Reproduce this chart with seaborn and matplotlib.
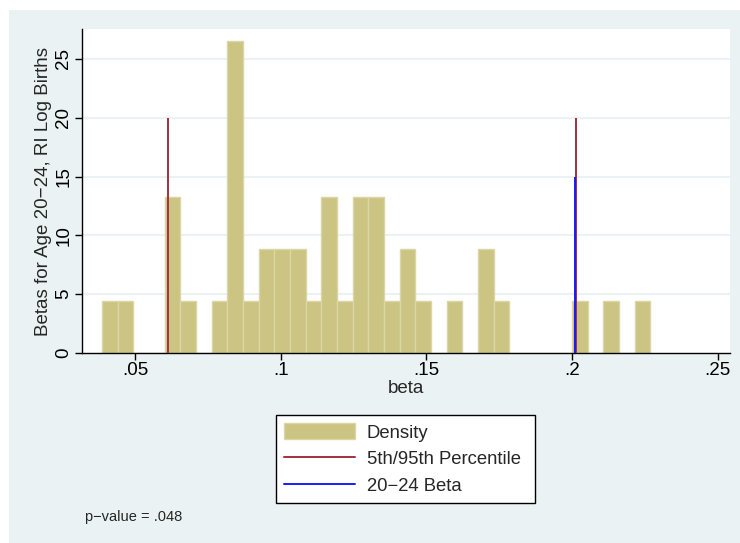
import matplotlib
matplotlib.use("Agg")
import matplotlib.pyplot as plt
from matplotlib.patches import Patch, Rectangle
from matplotlib.lines import Line2D
import numpy as np
import pandas as pd
import seaborn as sns

# Histogram of simulated betas: 35 equal-width bins and the count in each
bin_start = 0.03867
bin_width = 0.005377
bin_counts = [1, 1, 0, 0, 3, 1, 0, 1, 6, 1,
              2, 2, 2, 1, 3, 1, 3, 3, 1, 2,
              1, 0, 1, 0, 2, 1, 0, 0, 0, 0,
              1, 0, 1, 0, 1]

# Reference lines
pct_lines = [0.06145, 0.2012]   # 5th / 95th percentile
pct_height = 20
beta_line = 0.2011              # 20-24 beta
beta_height = 15

x_ticks = [0.05, 0.10, 0.15, 0.20, 0.25]
x_tick_labels = [".05", ".1", ".15", ".2", ".25"]
y_ticks = [0, 5, 10, 15, 20, 25]
p_value_text = "p\u2212value = .048"

edges = bin_start + bin_width * np.arange(len(bin_counts) + 1)
centers = (edges[:-1] + edges[1:]) / 2
df = pd.DataFrame({"beta": centers, "n": np.asarray(bin_counts, float)})

sns.set_theme(style="white")
plt.rcParams["font.family"] = ["Liberation Sans", "DejaVu Sans"]

W, H = 740, 543
fig = plt.figure(figsize=(W / 100, H / 100), dpi=100, facecolor="white")
bg = "#eaf2f3"
fig.patches.append(Rectangle((9 / W, 0), 1 - 9 / W, 1 - 10 / H,
                             transform=fig.transFigure, facecolor=bg,
                             edgecolor="none", zorder=-10))

ax = fig.add_axes([82 / W, 1 - 353 / H, (730 - 82) / W, (353 - 29) / H])
ax.set_facecolor("white")

fill = "#cbc482"
sns.histplot(data=df, x="beta", weights="n", bins=list(edges),
             stat="density", color=fill, alpha=1, edgecolor="#dad6a6",
             linewidth=1, ax=ax, zorder=2)

for x in pct_lines:
    ax.plot([x, x], [0, pct_height], color="#a3303d", lw=1.4, zorder=3,
            solid_capstyle="butt")
ax.plot([beta_line, beta_line], [0, beta_height], color="#1a1aff", lw=1.4,
        zorder=4, solid_capstyle="butt")

fs = 13.5
ax.set_xlim(0.0318, 0.2542)
ax.set_ylim(0, 27.55)
ax.set_xticks(x_ticks)
ax.set_xticklabels(x_tick_labels, fontsize=fs)
ax.set_yticks(y_ticks)
ax.set_yticklabels([str(v) for v in y_ticks], fontsize=fs,
                   rotation=90, va="center")
for v in y_ticks[1:]:
    ax.axhline(v, color=bg, lw=1.5, zorder=1)

ax.set_xlabel("beta", fontsize=fs, labelpad=1)
ax.set_ylabel("Betas for Age 20\u221224, RI Log Births", fontsize=fs,
              labelpad=2)

for side in ["top", "right"]:
    ax.spines[side].set_visible(False)
for side in ["left", "bottom"]:
    ax.spines[side].set_color("black")
    ax.spines[side].set_linewidth(1)
ax.tick_params(axis="both", direction="out", length=5, width=1,
               color="black", left=True, bottom=True, labelcolor="black")
ax.tick_params(axis="x", pad=1.5)
ax.tick_params(axis="y", pad=2)

handles = [Patch(facecolor=fill, edgecolor="#dad6a6", linewidth=1),
           Line2D([], [], color="#a3303d", lw=1.4),
           Line2D([], [], color="#1a1aff", lw=1.4)]
labels = ["Density", "5th/95th Percentile", "20\u221224 Beta"]
leg = fig.legend(handles, labels, loc="upper left",
                 bbox_to_anchor=(276 / W, 1 - 415 / H, (535 - 276) / W, 0),
                 mode="expand",
                 frameon=True, fancybox=False, framealpha=1,
                 facecolor="white", edgecolor="black", fontsize=13.3,
                 handlelength=3.8, handleheight=0.95, handletextpad=0.65,
                 labelspacing=0.45, borderpad=0.45, borderaxespad=0)
leg.get_frame().set_linewidth(1)

fig.text(85 / W, 1 - 517 / H, p_value_text, fontsize=10.5,
         va="center", ha="left")

fig.savefig("out.png", dpi=100, facecolor="white")
